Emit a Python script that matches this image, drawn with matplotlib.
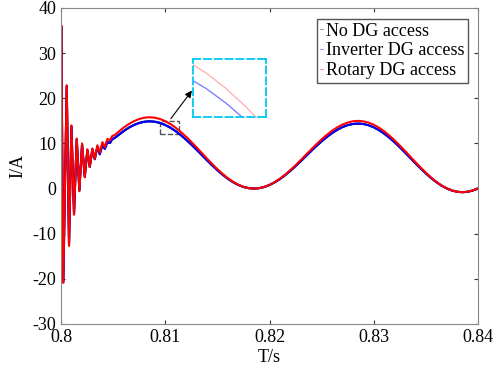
import matplotlib.pyplot as plt
from matplotlib.patches import Rectangle

plt.rcParams['font.family'] = 'serif'
plt.rcParams['font.serif'] = ['Liberation Serif', 'DejaVu Serif']
plt.rcParams['axes.unicode_minus'] = False

# transient part, shared time axis for all curves
t_trans = [0.8, 0.80002, 0.80022, 0.80055, 0.80077, 0.801, 0.80125, 0.80151,
           0.80176, 0.80202, 0.80228, 0.80253, 0.80276, 0.80301, 0.80324, 0.80349,
           0.80372, 0.80397, 0.8042, 0.80445, 0.8047, 0.8049, 0.8052]
rot_trans = [20.0, 36.2, -20.9, 22.9, -12.7, 14.0, -5.8, 11.1, -0.6, 10.0, 2.5, 8.7,
             4.8, 8.9, 6.6, 9.6, 8.0, 10.3, 9.2, 11.0, 10.7, 11.6, 11.95]
inv_trans = [13.5, 36.0, -20.7, 22.7, -12.5, 13.8, -5.6, 10.9, -0.4, 9.8, 2.6, 8.5,
             4.8, 8.7, 6.5, 9.3, 7.6, 9.7, 8.8, 10.3, 10.1, 10.9, 11.3]

# steady part, every 0.5 ms
t_steady = [0.8055, 0.806, 0.8065, 0.807, 0.8075, 0.808, 0.8085, 0.809, 0.8095, 0.81,
            0.8105, 0.811, 0.8115, 0.812, 0.8125, 0.813, 0.8135, 0.814, 0.8145, 0.815,
            0.8155, 0.816, 0.8165, 0.817, 0.8175, 0.818, 0.8185, 0.819, 0.8195, 0.82,
            0.8205, 0.821, 0.8215, 0.822, 0.8225, 0.823, 0.8235, 0.824, 0.8245, 0.825,
            0.8255, 0.826, 0.8265, 0.827, 0.8275, 0.828, 0.8285, 0.829, 0.8295, 0.83,
            0.8305, 0.831, 0.8315, 0.832, 0.8325, 0.833, 0.8335, 0.834, 0.8345, 0.835,
            0.8355, 0.836, 0.8365, 0.837, 0.8375, 0.838, 0.8385, 0.839, 0.8395, 0.84]
rot_steady = [12.54, 13.49, 14.29, 14.94, 15.41, 15.70, 15.80, 15.70, 15.41, 14.94,
              14.29, 13.49, 12.54, 11.49, 10.34, 9.14, 7.90, 6.66, 5.46, 4.31,
              3.26, 2.31, 1.51, 0.86, 0.39, 0.10, 0.00, 0.09, 0.37, 0.82,
              1.43, 2.20, 3.09, 4.10, 5.18, 6.33, 7.50, 8.67, 9.82, 10.91,
              11.91, 12.80, 13.57, 14.18, 14.63, 14.91, 15.00, 14.90, 14.61, 14.14,
              13.49, 12.69, 11.74, 10.69, 9.54, 8.34, 7.10, 5.86, 4.66, 3.51,
              2.46, 1.51, 0.71, 0.06, -0.41, -0.70, -0.80, -0.70, -0.41, 0.06]
inv_steady = [11.83, 12.72, 13.48, 14.09, 14.54, 14.81, 14.90, 14.81, 14.54, 14.09,
              13.48, 12.72, 11.83, 10.83, 9.75, 8.62, 7.45, 6.28, 5.15, 4.07,
              3.07, 2.18, 1.42, 0.81, 0.36, 0.09, 0.00, 0.09, 0.35, 0.79,
              1.38, 2.11, 2.97, 3.93, 4.98, 6.07, 7.20, 8.33, 9.43, 10.47,
              11.43, 12.29, 13.02, 13.62, 14.05, 14.31, 14.40, 14.31, 14.03, 13.57,
              12.95, 12.17, 11.27, 10.25, 9.15, 7.99, 6.80, 5.61, 4.45, 3.35,
              2.33, 1.43, 0.65, 0.03, -0.43, -0.71, -0.80, -0.71, -0.43, 0.03]

t = t_trans + t_steady
rotary = rot_trans + rot_steady
inverter = inv_trans + inv_steady
no_dg = list(inverter)  # sits under the blue curve

labels = ['No DG access', 'Inverter DG access', 'Rotary DG access']
colors = ['black', 'blue', 'red']

fig = plt.figure(figsize=(4.98, 3.80), dpi=100)
ax = fig.add_axes([61/498, 1 - 324/380, 417/498, 316/380])
for y, c, lab in zip([no_dg, inverter, rotary], colors, labels):
    ax.plot(t, y, color=c, lw=1.5, label=lab)

ax.set_xlim(0.8, 0.84)
ax.set_ylim(-30, 40)
ax.set_xticks([0.8, 0.81, 0.82, 0.83, 0.84])
ax.set_xticklabels(['0.8', '0.81', '0.82', '0.83', '0.84'])
ax.set_yticks(range(-30, 41, 10))
ax.tick_params(direction='in', labelsize=13, length=3, top=True, right=True, colors='#333333',
               labelcolor='black')
for s in ax.spines.values():
    s.set_color('#888888')
ax.set_xlabel('T/s', fontsize=13, labelpad=2)
ax.set_ylabel('I/A', fontsize=13, labelpad=4)

leg = ax.legend(loc='upper right', bbox_to_anchor=(468/498, 1 - 19/380), bbox_transform=fig.transFigure,
                fontsize=13, handlelength=0.15, handletextpad=0.15, borderpad=0.2, labelspacing=0.15,
                fancybox=False, edgecolor='#555555', framealpha=1, borderaxespad=0)
leg.get_frame().set_linewidth(1.0)
for h in leg.get_lines():
    h.set_alpha(0.4)
    h.set_linewidth(0.8)

# small dashed box on the curve and the arrow to the zoom window
ax.add_patch(Rectangle((0.80945, 12.0), 0.00183, 3.0, fill=False, ls='--', lw=1.0, ec='#555555'))
ax.annotate('', xy=(0.81272, 22.2), xytext=(0.81038, 15.0),
            arrowprops=dict(arrowstyle='-|>', color='black', lw=0.8, mutation_scale=10))

# zoom window
axin = fig.add_axes([193.3/498, 1 - 116.7/380, 72.7/498, 57.4/380])
axin.plot(t, inverter, color='blue', lw=1.0, alpha=0.5)
axin.plot(t, rotary, color='red', lw=1.0, alpha=0.3)
axin.set_xlim(0.81018, 0.81202)
axin.set_ylim(12.0, 15.0)
axin.set_xticks([])
axin.set_yticks([])
for s in axin.spines.values():
    s.set_color('#00c8f0')
    s.set_linestyle((0, (4, 2)))
    s.set_linewidth(1.3)

fig.savefig('out.png', dpi=100)
